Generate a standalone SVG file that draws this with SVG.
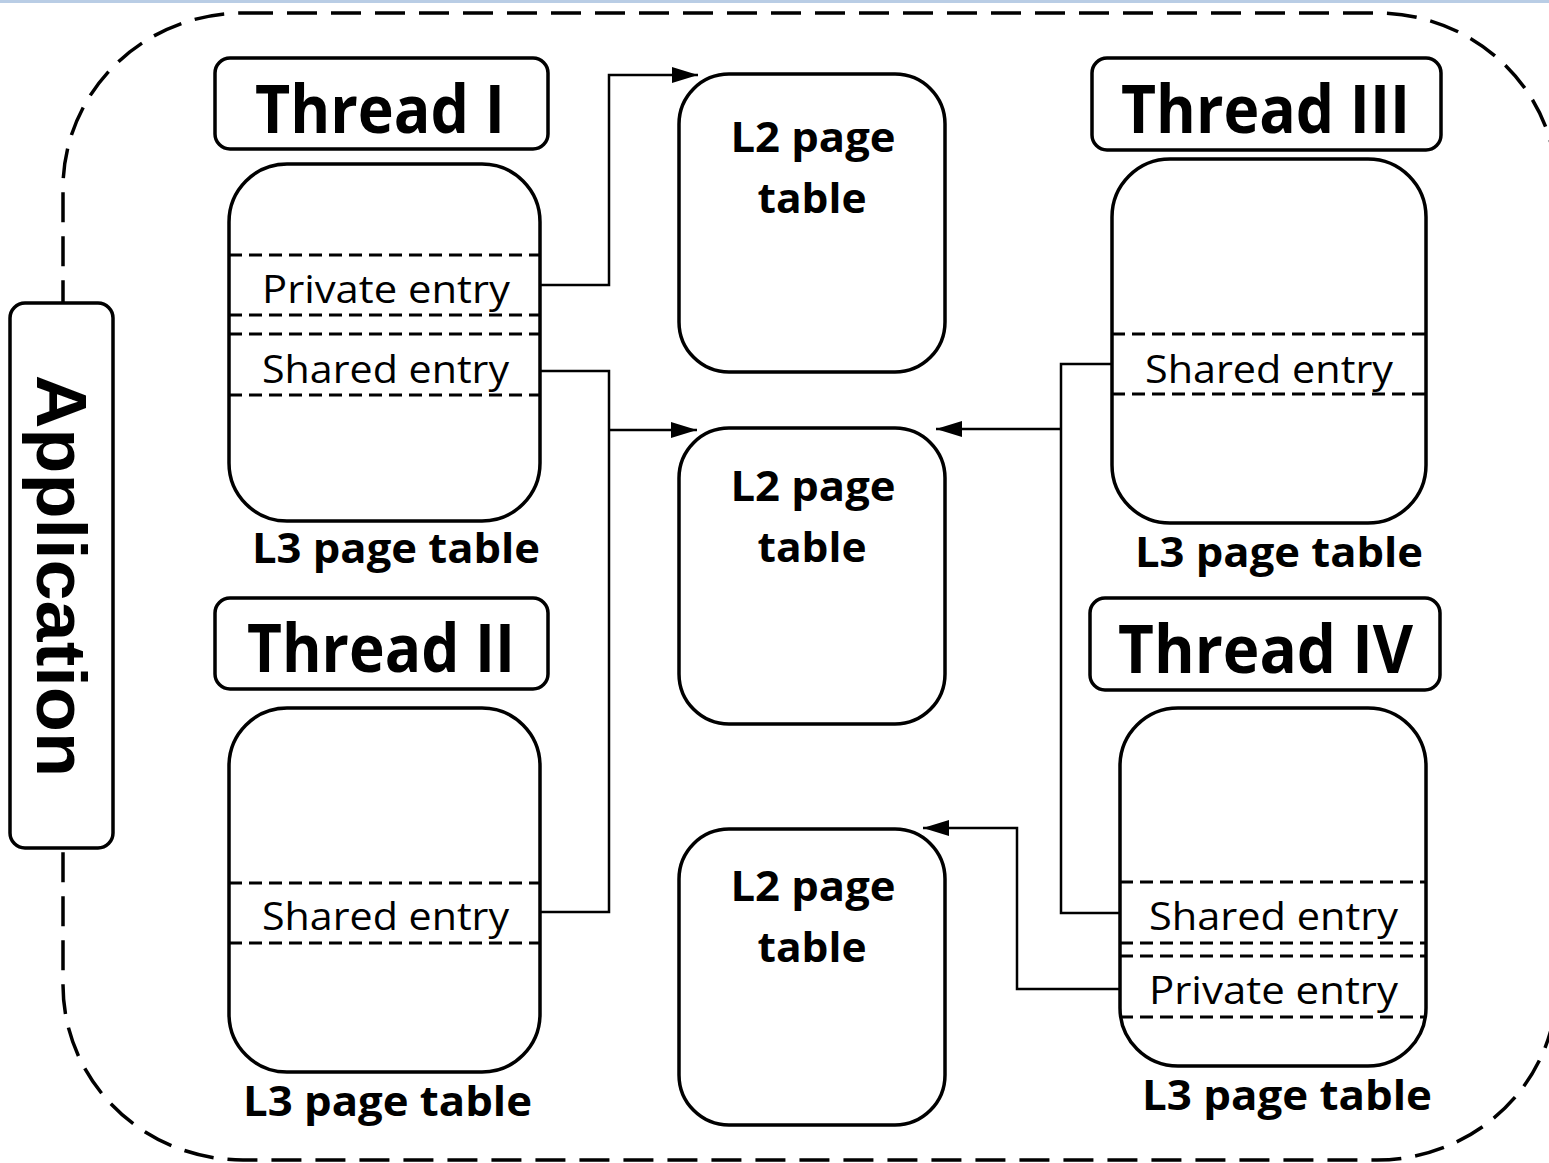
<svg xmlns="http://www.w3.org/2000/svg" width="1549" height="1163" viewBox="0 0 1549 1163">
<defs>
<style>
.box{fill:#fff;stroke:#000;stroke-width:3.5}
.lbl{fill:#fff;stroke:#000;stroke-width:3.5}
.outer{fill:none;stroke:#000;stroke-width:3.5;stroke-dasharray:30,14}
.div{stroke:#000;stroke-width:3;stroke-dasharray:13,7;fill:none}
.con{fill:none;stroke:#000;stroke-width:2.5}
.th{font-family:"Open Sans","Liberation Sans",sans-serif;font-weight:bold;font-size:66px;fill:#000}
.l3{font-family:"Open Sans","Liberation Sans",sans-serif;font-weight:bold;font-size:42px;fill:#000}
.l2{font-family:"Open Sans","Liberation Sans",sans-serif;font-weight:bold;font-size:42px;fill:#000;text-anchor:middle}
.en{font-family:"Open Sans","Liberation Sans",sans-serif;font-size:39px;fill:#000}
.app{font-family:"Liberation Sans",Arial,sans-serif;font-weight:bold;font-size:71px;fill:#000}
</style>
<marker id="arr" markerUnits="userSpaceOnUse" markerWidth="28" markerHeight="18" refX="26" refY="8" orient="auto">
<path d="M0,0 L26,8 L0,16 Z" fill="#000"/>
</marker>
</defs>
<rect x="0" y="0" width="1549" height="3" fill="#b9cde5"/>
<rect class="outer" x="63" y="13" width="1494" height="1147" rx="180" ry="175"/>

<g id="application">
<rect class="lbl" x="10" y="303" width="103" height="545" rx="15"/>
<text class="app" transform="translate(37,576) rotate(90)" text-anchor="middle" textLength="402" lengthAdjust="spacingAndGlyphs">Application</text>
</g>

<g id="connectors">
<polyline class="con" points="540,285 609,285 609,75 698,75" marker-end="url(#arr)"/>
<polyline class="con" points="540,371 609,371 609,912 540,912"/>
<line class="con" x1="609" y1="430" x2="697" y2="430" marker-end="url(#arr)"/>
<polyline class="con" points="1112,364 1061,364 1061,913 1120,913"/>
<line class="con" x1="1061" y1="429" x2="936" y2="429" marker-end="url(#arr)"/>
<polyline class="con" points="1120,989 1017,989 1017,828 923,828" marker-end="url(#arr)"/>
</g>

<g id="thread1">
<rect class="lbl" x="215" y="58" width="333" height="91" rx="15"/>
<text class="th" x="255" y="133" textLength="250" lengthAdjust="spacingAndGlyphs">Thread I</text>
<rect class="box" x="229" y="164" width="311" height="357" rx="58"/>
<line class="div" x1="229" y1="255" x2="540" y2="255"/>
<line class="div" x1="229" y1="315" x2="540" y2="315"/>
<line class="div" x1="229" y1="334" x2="540" y2="334"/>
<line class="div" x1="229" y1="395" x2="540" y2="395"/>
<text class="en" x="262" y="303" textLength="248" lengthAdjust="spacingAndGlyphs">Private entry</text>
<text class="en" x="262" y="383" textLength="247" lengthAdjust="spacingAndGlyphs">Shared entry</text>
<text class="l3" x="252" y="563" textLength="288" lengthAdjust="spacingAndGlyphs">L3 page table</text>
</g>

<g id="thread2">
<rect class="lbl" x="215" y="598" width="333" height="91" rx="15"/>
<text class="th" x="247" y="672" textLength="268" lengthAdjust="spacingAndGlyphs">Thread II</text>
<rect class="box" x="229" y="708" width="311" height="364" rx="58"/>
<line class="div" x1="229" y1="883" x2="540" y2="883"/>
<line class="div" x1="229" y1="943" x2="540" y2="943"/>
<text class="en" x="262" y="930" textLength="247" lengthAdjust="spacingAndGlyphs">Shared entry</text>
<text class="l3" x="243" y="1116" textLength="289" lengthAdjust="spacingAndGlyphs">L3 page table</text>
</g>

<g id="thread3">
<rect class="lbl" x="1092" y="58" width="349" height="92" rx="15"/>
<text class="th" x="1121" y="133" textLength="289" lengthAdjust="spacingAndGlyphs">Thread III</text>
<rect class="box" x="1112" y="159" width="314" height="364" rx="58"/>
<line class="div" x1="1112" y1="334" x2="1426" y2="334"/>
<line class="div" x1="1112" y1="394" x2="1426" y2="394"/>
<text class="en" x="1145" y="383" textLength="248" lengthAdjust="spacingAndGlyphs">Shared entry</text>
<text class="l3" x="1135" y="567" textLength="288" lengthAdjust="spacingAndGlyphs">L3 page table</text>
</g>

<g id="thread4">
<rect class="lbl" x="1090" y="598" width="350" height="92" rx="15"/>
<text class="th" x="1118" y="673" textLength="295" lengthAdjust="spacingAndGlyphs">Thread IV</text>
<rect class="box" x="1120" y="708" width="306" height="358" rx="58"/>
<line class="div" x1="1120" y1="882" x2="1426" y2="882"/>
<line class="div" x1="1120" y1="943" x2="1426" y2="943"/>
<line class="div" x1="1120" y1="956" x2="1426" y2="956"/>
<line class="div" x1="1120" y1="1017" x2="1426" y2="1017"/>
<text class="en" x="1149" y="930" textLength="249" lengthAdjust="spacingAndGlyphs">Shared entry</text>
<text class="en" x="1149" y="1004" textLength="249" lengthAdjust="spacingAndGlyphs">Private entry</text>
<text class="l3" x="1142" y="1110" textLength="290" lengthAdjust="spacingAndGlyphs">L3 page table</text>
</g>

<g id="l2a">
<rect class="box" x="679" y="74" width="266" height="298" rx="50"/>
<text class="l2" x="813" y="152" textLength="165" lengthAdjust="spacingAndGlyphs">L2 page</text>
<text class="l2" x="812" y="213" textLength="109" lengthAdjust="spacingAndGlyphs">table</text>
</g>
<g id="l2b">
<rect class="box" x="679" y="428" width="266" height="296" rx="50"/>
<text class="l2" x="813" y="501" textLength="165" lengthAdjust="spacingAndGlyphs">L2 page</text>
<text class="l2" x="812" y="562" textLength="109" lengthAdjust="spacingAndGlyphs">table</text>
</g>
<g id="l2c">
<rect class="box" x="679" y="829" width="266" height="296" rx="50"/>
<text class="l2" x="813" y="901" textLength="165" lengthAdjust="spacingAndGlyphs">L2 page</text>
<text class="l2" x="812" y="962" textLength="109" lengthAdjust="spacingAndGlyphs">table</text>
</g>
</svg>
